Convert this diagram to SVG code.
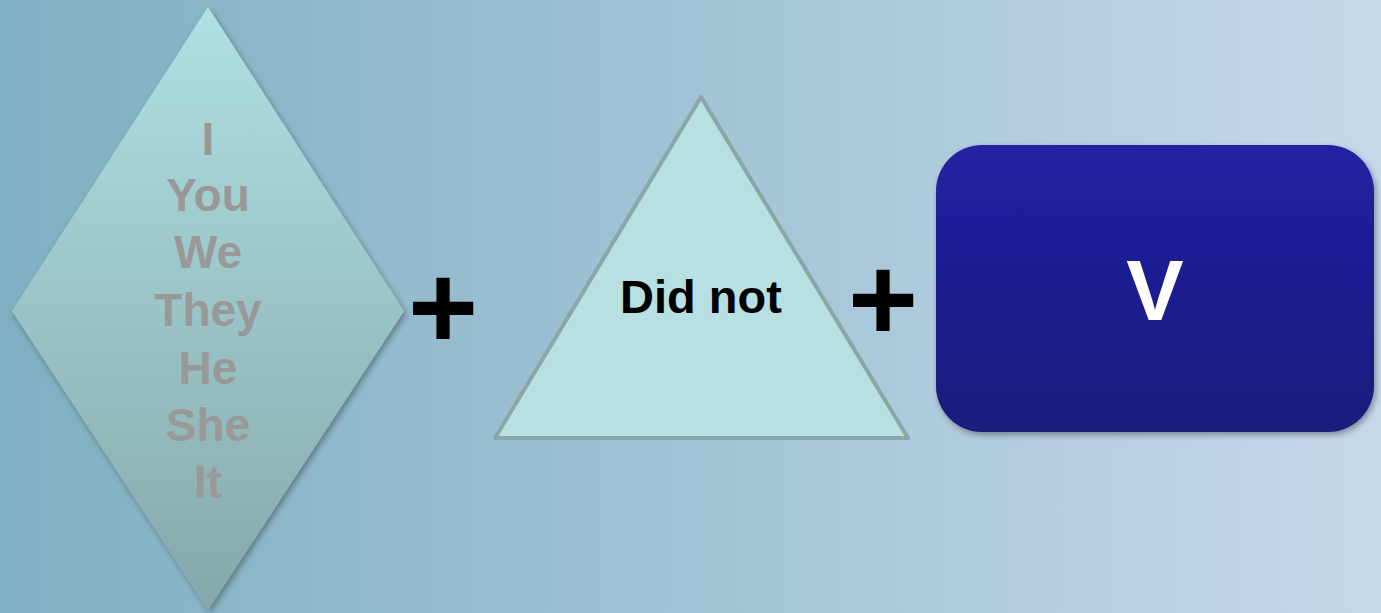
<svg xmlns="http://www.w3.org/2000/svg" width="1381" height="613" viewBox="0 0 1381 613">
<defs>
<linearGradient id="bg" x1="0" y1="0" x2="1" y2="0">
<stop offset="0" stop-color="#7fb0c1"/>
<stop offset="0.5" stop-color="#a2c3d5"/>
<stop offset="1" stop-color="#c6d9eb"/>
</linearGradient>
<linearGradient id="dia" x1="0" y1="0" x2="0" y2="1">
<stop offset="0" stop-color="#afe0e3"/>
<stop offset="1" stop-color="#86a8aa"/>
</linearGradient>
<linearGradient id="box" x1="0" y1="0" x2="0" y2="1">
<stop offset="0" stop-color="#2121a3"/>
<stop offset="1" stop-color="#1a1a7c"/>
</linearGradient>
<filter id="sh" x="-10%" y="-10%" width="120%" height="120%">
<feDropShadow dx="2" dy="3" stdDeviation="3" flood-color="#000" flood-opacity="0.35"/>
</filter>
</defs>
<style>
.t{font-family:"Liberation Sans",Arial,sans-serif;font-weight:bold;text-anchor:middle}
.g{fill:#999999;font-size:46px}
.plus{fill:#000;font-size:120px}
</style>
<rect width="1381" height="613" fill="url(#bg)"/>
<g id="pronouns">
<polygon points="208,7 404,311 208,610 12,311" fill="url(#dia)" filter="url(#sh)"/>
<text class="t g" x="208" y="155">I</text>
<text class="t g" x="208" y="211">You</text>
<text class="t g" x="208" y="268">We</text>
<text class="t g" x="208" y="326">They</text>
<text class="t g" x="208" y="384">He</text>
<text class="t g" x="208" y="441">She</text>
<text class="t g" x="208" y="498">It</text>
</g>
<g id="connectors">
<text class="t plus" x="443" y="349">+</text>
<text class="t plus" x="883" y="341">+</text>
</g>
<g id="didnot">
<polygon points="701,97 908,438 495,438" fill="#b8e0e2" stroke="#8aa6a6" stroke-width="4" stroke-linejoin="round"/>
<text class="t" x="701" y="313" font-size="47" fill="#000">Did not</text>
</g>
<g id="verb">
<rect x="936" y="145" width="438" height="287" rx="46" fill="url(#box)" filter="url(#sh)"/>
<text class="t" x="1155" y="320" font-size="86" fill="#fff">V</text>
</g>
</svg>
